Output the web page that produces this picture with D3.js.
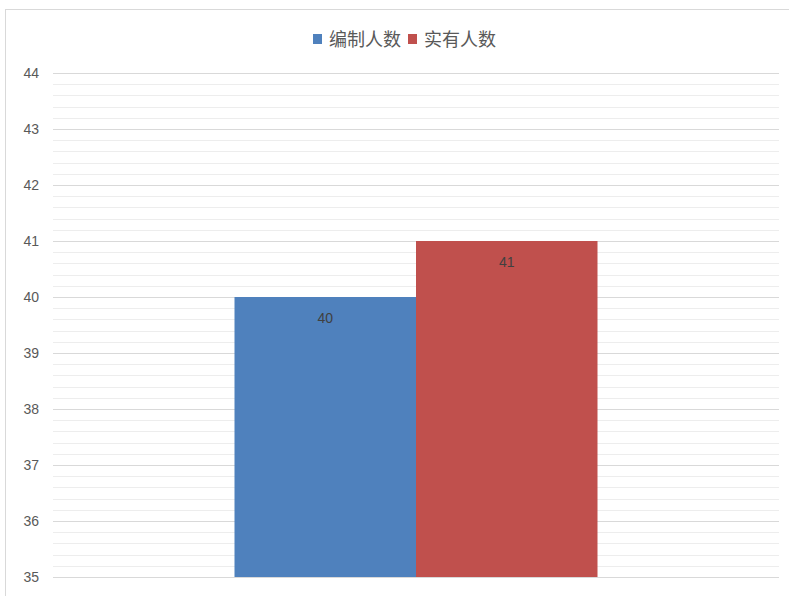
<!DOCTYPE html>
<html>
<head>
<meta charset="utf-8">
<script src="https://cdn.jsdelivr.net/npm/d3@7"></script>
<style>
  body { margin: 0; background: #fff; }
  svg { display: block; }
</style>
</head>
<body>
<svg id="chart"></svg>
<script>
// DATA
const seriesNames = ['编制人数', '实有人数']
const seriesValues = [40, 41]
const seriesColors = ['#4f81bd', '#c0504d']
const yTicks = [35, 36, 37, 38, 39, 40, 41, 42, 43, 44]

const totalWidth = 789,
  totalHeight = 596,
  margin = { left: 53, top: 73, right: 10, bottom: 19 },
  width = totalWidth - margin.left - margin.right,
  height = totalHeight - margin.top - margin.bottom

const svg = d3.select('#chart')
  .attr('width', totalWidth)
  .attr('height', totalHeight)

// FRAME
svg.append('rect')
  .attr('x', 5.5).attr('y', 9.5)
  .attr('width', totalWidth + 10).attr('height', totalHeight + 10)
  .attr('fill', '#fff')
  .attr('stroke', '#d9d9d9')

const plot = svg.append('g')
  .attr('transform', `translate(${margin.left}, ${margin.top})`)

// SCALES
const y = d3.scaleLinear()
  .domain([35, 44])
  .range([height, 0])

const x = d3.scaleBand()
  .domain(['group'])
  .range([0, width])
  .paddingInner(0)
  .paddingOuter(0.5)

const xs = d3.scaleBand()
  .domain(seriesNames)
  .range([0, x.bandwidth()])

// MINOR GRID
const minor = d3.range(35, 44.001, 0.2).filter(v => Math.abs(v - Math.round(v)) > 0.01)
plot.append('g')
  .selectAll('line')
  .data(minor)
  .enter()
  .append('line')
    .attr('x1', 0).attr('x2', width)
    .attr('y1', d => Math.round(y(d)) + 0.5)
    .attr('y2', d => Math.round(y(d)) + 0.5)
    .attr('stroke', '#ededed')

// MAJOR GRID + Y LABELS
const yAxis = d3.axisLeft(y)
  .tickValues(yTicks)
  .tickSize(-width)
  .tickPadding(14)
  .tickFormat(d3.format('d'))
const gy = plot.append('g').call(yAxis)
gy.select('.domain').remove()
gy.selectAll('.tick line').attr('stroke', '#d9d9d9')
gy.selectAll('.tick text')
  .attr('fill', '#595959')
  .style('font-family', '"Liberation Sans Narrow", "Liberation Sans", sans-serif')
  .style('font-size', '14px')

// BARS
const bars = plot.append('g')
bars.selectAll('rect')
  .data(seriesValues)
  .enter()
  .append('rect')
    .attr('x', (d, i) => x('group') + xs(seriesNames[i]))
    .attr('y', d => y(d))
    .attr('width', xs.bandwidth())
    .attr('height', d => height - y(d))
    .attr('fill', (d, i) => seriesColors[i])

bars.selectAll('text')
  .data(seriesValues)
  .enter()
  .append('text')
    .attr('x', (d, i) => x('group') + xs(seriesNames[i]) + xs.bandwidth() / 2)
    .attr('y', d => y(d) + 26)
    .attr('text-anchor', 'middle')
    .attr('fill', '#404040')
    .style('font-family', '"Liberation Sans Narrow", "Liberation Sans", sans-serif')
    .style('font-size', '14px')
    .text(d => d)

// LEGEND
const legend = svg.append('g')
  .attr('transform', 'translate(313, 39)')
const legendX = [0, 95]
seriesNames.forEach((name, i) => {
  const g = legend.append('g').attr('transform', `translate(${legendX[i]}, 0)`)
  g.append('rect')
    .attr('x', 0).attr('y', -5)
    .attr('width', 9).attr('height', 10)
    .attr('fill', seriesColors[i])
  g.append('text')
    .attr('x', 16).attr('y', 7)
    .attr('fill', '#595959')
    .style('font-family', '"Noto Sans CJK SC", sans-serif')
    .style('font-size', '18px')
    .text(name)
})
</script>
</body>
</html>
